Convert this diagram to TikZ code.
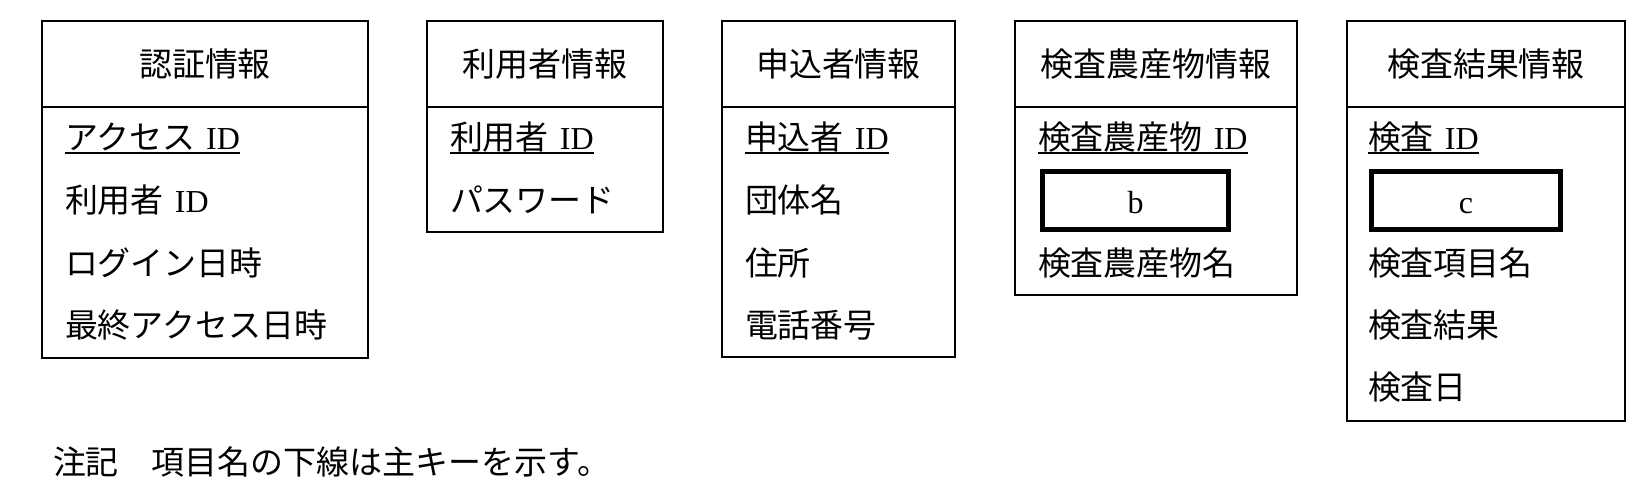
\documentclass[tikz,border=0pt]{standalone}
\usepackage{fontspec}
\setmainfont{Liberation Serif}
\newfontfamily\jp{Noto Sans CJK JP}[Scale=1.03]
\newcommand{\jtx}[1]{{\jp #1}}
\begin{document}
\begin{tikzpicture}[x=1pt,y=-1pt,
  box/.style={draw, line width=2.5pt, outer sep=0pt, inner sep=0pt, anchor=north west,
    font=\fontsize{32pt}{38pt}\selectfont\jp},
  txt/.style={inner sep=0pt, outer sep=0pt, anchor=base west,
    font=\fontsize{32pt}{38pt}\selectfont},
  uline/.style={line width=2pt},
  blank/.style={draw, line width=5pt, inner sep=0pt, outer sep=0pt, anchor=north west,
    minimum height=58pt, text height=26pt, text depth=0pt,
    font=\fontsize{32pt}{38pt}\selectfont}
]
\useasboundingbox (0,0) rectangle (1634,496);

% Box 1
\node[box, minimum width=326pt, minimum height=86pt] (h1) at (42,21) {認証情報};
\node[box, minimum width=326pt, minimum height=251pt] (e1) at (42,107) {};
\node[txt] (a1) at (65,149) {\jtx{アクセス}\hspace{11pt}ID};
\node[txt] (a2) at (65,212) {\jtx{利用者}\hspace{11pt}ID};
\node[txt] (a3) at (65,275) {\jtx{ログイン日時}};
\node[txt] (a4) at (65,337) {\jtx{最終アクセス日時}};
\draw[uline] ([yshift=-4pt]a1.base west) -- ([yshift=-4pt]a1.base east);

% Box 2
\node[box, minimum width=236pt, minimum height=86pt] (h2) at (427,21) {利用者情報};
\node[box, minimum width=236pt, minimum height=125pt] (e2) at (427,107) {};
\node[txt] (u1) at (450,149) {\jtx{利用者}\hspace{11pt}ID};
\node[txt] (u2) at (450,212) {\jtx{パスワード}};
\draw[uline] ([yshift=-4pt]u1.base west) -- ([yshift=-4pt]u1.base east);

% Box 3
\node[box, minimum width=233pt, minimum height=86pt] (h3) at (722,21) {申込者情報};
\node[box, minimum width=233pt, minimum height=250pt] (e3) at (722,107) {};
\node[txt] (m1) at (745,149) {\jtx{申込者}\hspace{11pt}ID};
\node[txt] (m2) at (745,212) {\jtx{団体名}};
\node[txt] (m3) at (745,275) {\jtx{住所}};
\node[txt] (m4) at (745,337) {\jtx{電話番号}};
\draw[uline] ([yshift=-4pt]m1.base west) -- ([yshift=-4pt]m1.base east);

% Box 4
\node[box, minimum width=282pt, minimum height=86pt] (h4) at (1015,21) {検査農産物情報};
\node[box, minimum width=282pt, minimum height=188pt] (e4) at (1015,107) {};
\node[txt] (p1) at (1038,149) {\jtx{検査農産物}\hspace{11pt}ID};
\node[blank, minimum width=186pt] (pb) at (1042.5,171.5) {b};
\node[txt] (p3) at (1038,275) {\jtx{検査農産物名}};
\draw[uline] ([yshift=-4pt]p1.base west) -- ([yshift=-4pt]p1.base east);

% Box 5
\node[box, minimum width=278pt, minimum height=86pt] (h5) at (1347,21) {検査結果情報};
\node[box, minimum width=278pt, minimum height=314pt] (e5) at (1347,107) {};
\node[txt] (r1) at (1368,149) {\jtx{検査}\hspace{11pt}ID};
\node[blank, minimum width=189pt] (rc) at (1371.5,171.5) {c};
\node[txt] (r3) at (1368,275) {\jtx{検査項目名}};
\node[txt] (r4) at (1368,337) {\jtx{検査結果}};
\node[txt] (r5) at (1368,399) {\jtx{検査日}};
\draw[uline] ([yshift=-4pt]r1.base west) -- ([yshift=-4pt]r1.base east);

% Note
\node[txt] (note) at (53,474) {\jtx{注記　項目名の下線は主キーを示す。}};
\end{tikzpicture}
\end{document}
